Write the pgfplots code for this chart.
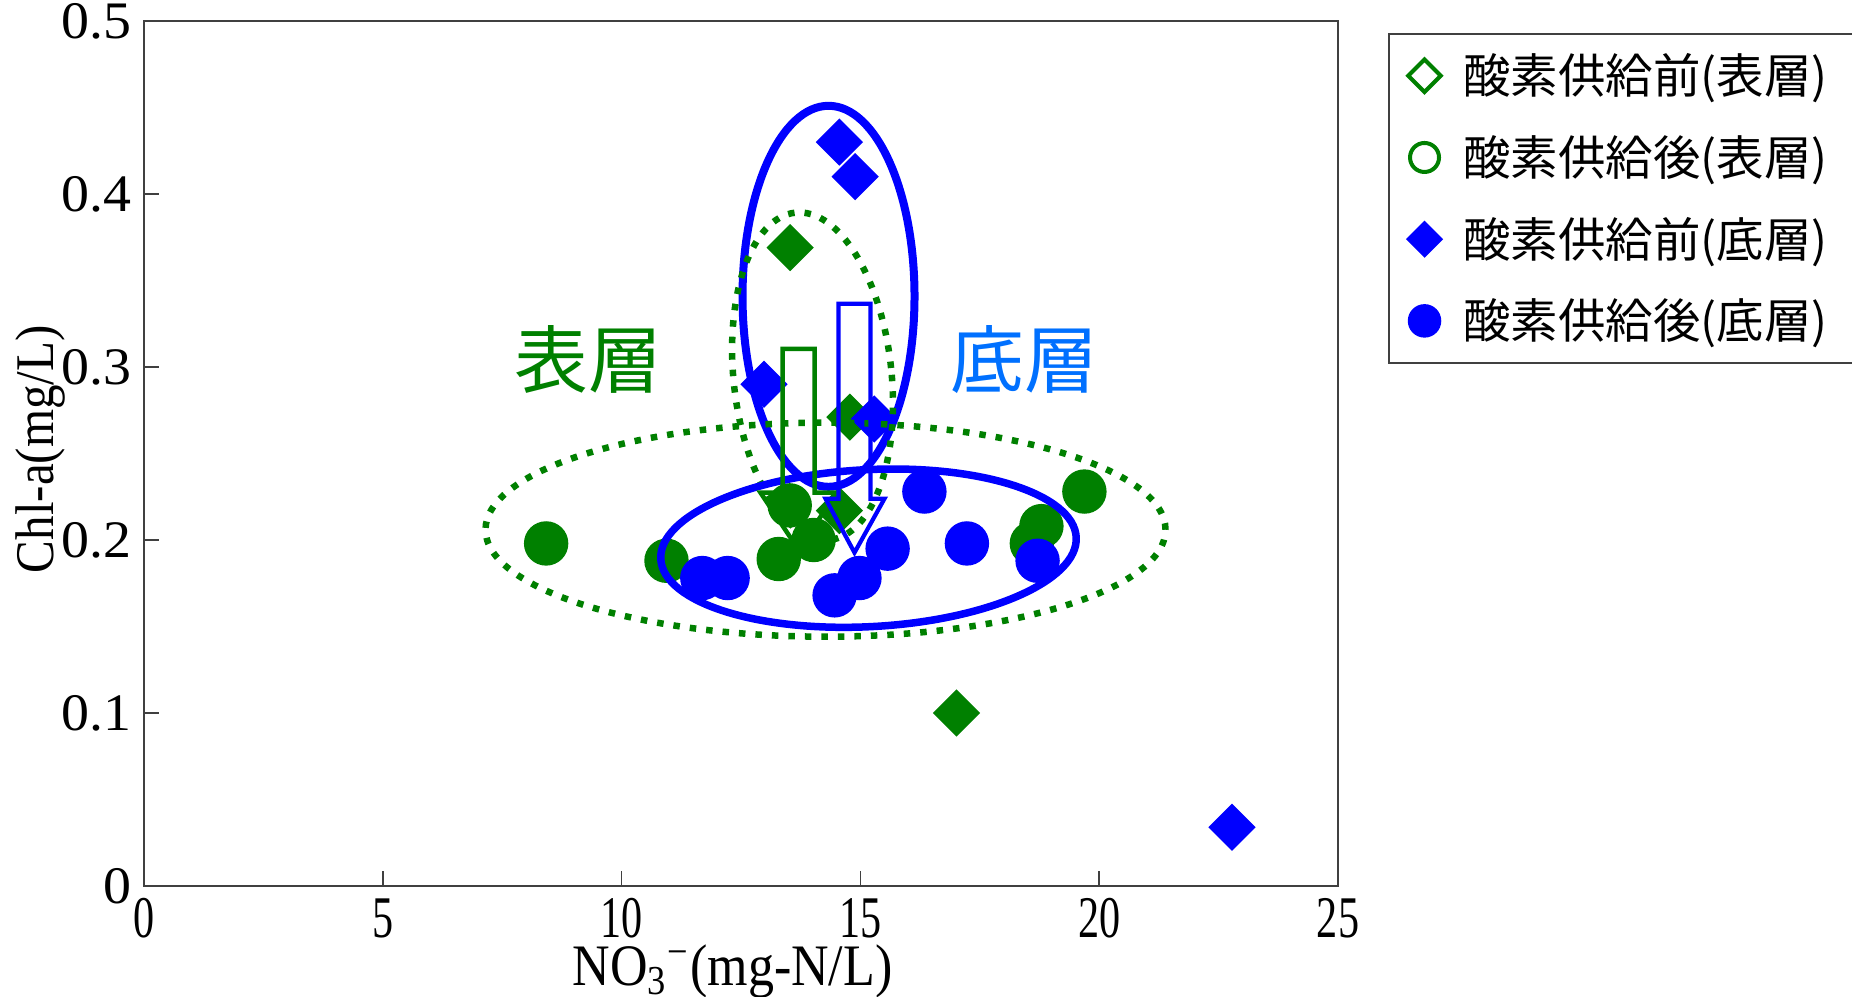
\documentclass[border=0pt]{standalone}
\usepackage{pgfplots}
\pgfplotsset{compat=1.18}
\usepackage{fontspec}
\usepackage{graphicx}
\setmainfont{Liberation Serif}
\newfontfamily\cjk{Noto Sans CJK JP}
\definecolor{mygreen}{RGB}{0,128,0}
\definecolor{myblue}{RGB}{0,0,255}
\definecolor{labelblue}{RGB}{0,112,255}
\begin{document}
\begin{tikzpicture}
\begin{axis}[
  scale only axis, width=11.94cm, height=8.65cm,
  xmin=0, xmax=25, ymin=0, ymax=0.5,
  xtick={0,5,10,15,20,25}, ytick={0,0.1,0.2,0.3,0.4,0.5},
  tick align=inside, tick pos=left, major tick length=1.5mm,
  axis line style={black!75, line width=0.2mm},
  tick style={black!75, line width=0.15mm},
  /pgf/number format/assume math mode=true,
  yticklabel={\scalebox{1.06}[1]{\fontsize{15}{15}\selectfont\pgfmathprintnumber{\tick}}},
  xticklabel={\scalebox{1}[1.4]{\fontsize{12}{12}\selectfont\pgfmathprintnumber{\tick}}},
  xlabel={\scalebox{1}[1.13]{\fontsize{14.8}{16}\selectfont NO\textsubscript{3}\textsuperscript{−}(mg-N/L)}},
  xlabel style={at={(axis description cs:0.493,-0.1156)}, anchor=base},
  ylabel={\scalebox{0.9}[1]{\fontsize{15.5}{16}\selectfont Chl-a(mg/L)}},
  ylabel style={at={(axis description cs:-0.0762,0.505)}, anchor=base},
  legend style={at={(axis description cs:1.0419,0.9861)}, anchor=north west,
    draw=black!75, line width=0.15mm, fill=white,
    inner xsep=1mm, inner ysep=1.5mm, row sep=2.77mm,
    font=\cjk\fontsize{13.5}{14}\selectfont,
    nodes={inner sep=0pt, text height=4.5mm, text depth=0.9mm, text width=4.3cm, align=left},
    /tikz/every odd column/.append style={column sep=1.3mm}},
  legend cell align=left,
]
\addplot[only marks, mark=square*, mark size=1.6mm,
  mark options={rotate=45, draw=mygreen, fill=mygreen},
  legend image code/.code={\path (0,0) (0.5cm,0); \draw[mark=square*, mark size=1.15mm, mark options={rotate=45, draw=mygreen, fill=white, line width=0.4mm}] plot coordinates {(0.25cm,0mm)};}]
  coordinates {(13.53,0.369) (14.78,0.271) (14.56,0.217) (17.01,0.100)};
\addlegendentry{酸素供給前(表層)}
\addplot[only marks, mark=*, mark size=2.15mm,
  mark options={draw=mygreen, fill=mygreen},
  legend image code/.code={\path (0,0) (0.5cm,0); \draw[mark=*, mark size=1.45mm, mark options={draw=mygreen, fill=white, line width=0.4mm}] plot coordinates {(0.25cm,0mm)};}]
  coordinates {(8.42,0.198) (10.94,0.188) (13.52,0.220) (13.29,0.189) (14.02,0.200) (18.79,0.208) (18.59,0.198) (19.69,0.228)};
\addlegendentry{酸素供給後(表層)}
\addplot[only marks, mark=square*, mark size=1.6mm,
  mark options={rotate=45, draw=myblue, fill=myblue},
  legend image code/.code={\path (0,0) (0.5cm,0); \draw[mark=square*, mark size=1.24mm, mark options={rotate=45, draw=myblue, fill=myblue}] plot coordinates {(0.25cm,0mm)};}]
  coordinates {(14.56,0.430) (14.89,0.410) (12.98,0.290) (15.29,0.270) (22.78,0.034)};
\addlegendentry{酸素供給前(底層)}
\addplot[only marks, mark=*, mark size=2.15mm,
  mark options={draw=myblue, fill=myblue},
  legend image code/.code={\path (0,0) (0.5cm,0); \draw[mark=*, mark size=1.6mm, mark options={draw=myblue, fill=myblue}] plot coordinates {(0.25cm,0mm)};}]
  coordinates {(11.69,0.178) (12.22,0.178) (14.46,0.168) (14.98,0.178) (15.57,0.195) (16.34,0.228) (17.23,0.198) (18.71,0.188)};
\addlegendentry{酸素供給後(底層)}
\end{axis}
\begin{scope}[shift={(-1.44cm,8.86cm)}, x=0.01cm, y=-0.01cm]
  % ellipses
  \draw[myblue, line width=0.8mm] (829,296.5) ellipse [x radius=0.86cm, y radius=1.905cm];
  \draw[mygreen, line width=0.65mm, dash pattern=on 0.65mm off 1mm, rotate around={6:(813,376.5)}] (813,376.5) ellipse [x radius=0.79cm, y radius=1.645cm];
  \draw[mygreen, line width=0.65mm, dash pattern=on 0.65mm off 1mm] (826,530) ellipse [x radius=3.40cm, y radius=1.07cm];
  \draw[myblue, line width=0.75mm, rotate around={3:(869,548.5)}] (869,548.5) ellipse [x radius=2.08cm, y radius=0.785cm];
  % block arrows
  \draw[mygreen, line width=0.45mm, line join=miter] (783,349) -- (815,349) -- (815,493) -- (837,493) -- (799,550) -- (761,493) -- (783,493) -- cycle;
  \draw[myblue, line width=0.42mm, line join=miter] (839,304) -- (871,304) -- (871,499) -- (885,499) -- (855,553) -- (826,499) -- (839,499) -- cycle;
  % labels
  \node[mygreen, font=\cjk\fontsize{21}{21}\selectfont] at (589,360) {表層};
  \node[labelblue, font=\cjk\fontsize{21}{21}\selectfont] at (1025,360) {底層};
\end{scope}
\pgfresetboundingbox
\path[use as bounding box] (-1.44cm,-1.11cm) rectangle (17.08cm,8.86cm);
\end{tikzpicture}
\end{document}
